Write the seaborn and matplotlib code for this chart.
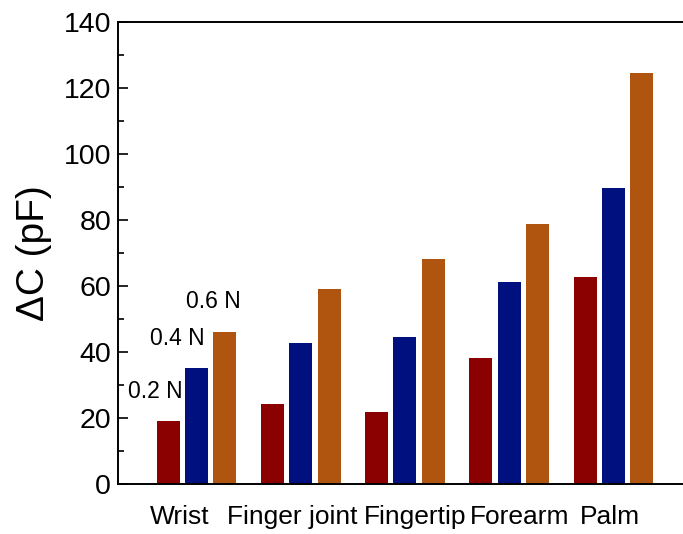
import matplotlib
matplotlib.use("Agg")
import matplotlib.pyplot as plt
import seaborn as sns
import pandas as pd
from matplotlib.ticker import MultipleLocator

# Capacitance change per body location at three applied forces
locations = ["Wrist", "Finger joint", "Fingertip", "Forearm", "Palm"]
forces = ["0.2 N", "0.4 N", "0.6 N"]
delta_c_02 = [19.2, 24.3, 21.7, 38.2, 62.6]
delta_c_04 = [35.2, 42.6, 44.4, 61.2, 89.6]
delta_c_06 = [46.2, 59.0, 68.2, 78.8, 124.6]
colors = ["#8B0000", "#00107F", "#B0550F"]

rows = []
for force, vals in zip(forces, [delta_c_02, delta_c_04, delta_c_06]):
    for loc, v in zip(locations, vals):
        rows.append({"location": loc, "force": force, "dC": v})
df = pd.DataFrame(rows)

sns.set_style("white")
plt.rcParams["font.family"] = ["Liberation Sans", "DejaVu Sans"]
plt.rcParams["text.color"] = "black"
plt.rcParams["axes.labelcolor"] = "black"
plt.rcParams["xtick.color"] = "black"
plt.rcParams["ytick.color"] = "black"

fig = plt.figure(figsize=(6.83, 5.34), dpi=100)
ax = fig.add_axes([0.1728, 0.0936, 0.8272, 0.8652])

sns.barplot(data=df, x="location", y="dC", hue="force",
            order=locations, hue_order=forces, palette=colors,
            width=0.813, gap=0.186, legend=False, ax=ax,
            linewidth=0, saturation=1)

ax.set_xlim(-0.753, 4.667)
ax.set_ylim(0, 140)
ax.yaxis.set_major_locator(MultipleLocator(20))
ax.yaxis.set_minor_locator(MultipleLocator(10))

# Category labels nudged sideways so the long names sit side by side
label_shift = [-0.163, -0.077, 0.096, 0.096, -0.034]
ax.set_xticks([i + s for i, s in enumerate(label_shift)], locations)

for side in ["left", "bottom", "top"]:
    ax.spines[side].set_visible(True)
    ax.spines[side].set_color("black")
    ax.spines[side].set_linewidth(1.4)
ax.spines["right"].set_visible(False)

ax.tick_params(axis="y", which="major", direction="in", length=7, width=1.2,
               labelsize=20.5, pad=5, left=True, right=False)
ax.tick_params(axis="y", which="minor", direction="in", length=4.5, width=1.2,
               left=True, right=False)
ax.tick_params(axis="x", which="both", length=0, labelsize=19, pad=15)

ax.set_xlabel("")
ax.set_ylabel("ΔC (pF)", fontsize=28, labelpad=8)

# Force labels above the first group of bars
wrist_vals = [delta_c_02[0], delta_c_04[0], delta_c_06[0]]
offsets = [-0.12, -0.18, -0.11]
slot = 0.813 / 3
for i, (force, v, off) in enumerate(zip(forces, wrist_vals, offsets)):
    xc = (i - 1) * slot + off
    ax.text(xc, v + 5.5, force, ha="center", va="bottom", fontsize=16.5)

fig.savefig("out.png", dpi=100)
